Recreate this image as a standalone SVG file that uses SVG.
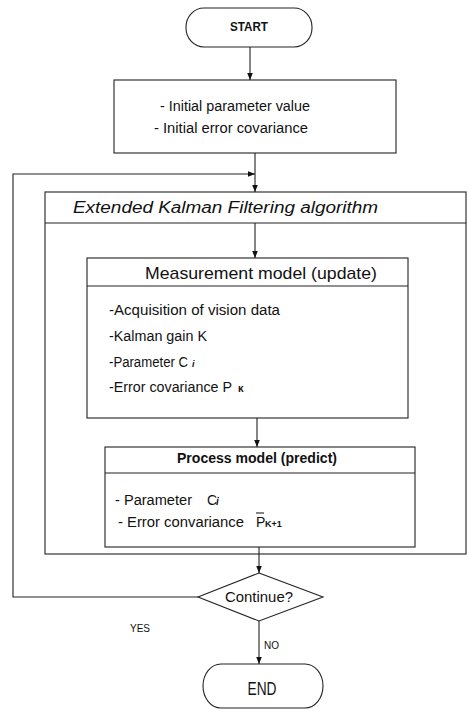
<svg xmlns="http://www.w3.org/2000/svg" width="469" height="710" viewBox="0 0 469 710">
<defs>
<marker id="ah" viewBox="0 0 10 10" refX="10" refY="5" markerWidth="7" markerHeight="7" orient="auto" markerUnits="userSpaceOnUse"><path d="M0,1 L10,5 L0,9 Z" fill="#111"/></marker>
<style>
.box{fill:none;stroke:#222;stroke-width:1.1}
.ln{fill:none;stroke:#222;stroke-width:1.1}
.t{font-family:"Liberation Sans",Arial,sans-serif;fill:#111}
</style>
</defs>
<rect width="469" height="710" fill="#fff"/>
<g id="start">
<rect class="box" x="186" y="8" width="126" height="39" rx="18" ry="19"/>
<text class="t" x="249" y="31" font-size="13" font-weight="bold" text-anchor="middle" textLength="38" lengthAdjust="spacingAndGlyphs">START</text>
</g>
<g id="init">
<rect class="box" x="114" y="80" width="282" height="73"/>
<text class="t" x="160" y="111" font-size="14" textLength="150" lengthAdjust="spacingAndGlyphs">- Initial parameter value</text>
<text class="t" x="154" y="133" font-size="14" textLength="154" lengthAdjust="spacingAndGlyphs">- Initial error covariance</text>
</g>
<g id="ekf">
<rect class="box" x="45" y="192" width="421" height="362"/>
<line class="ln" x1="45" y1="223" x2="466" y2="223"/>
<text class="t" x="73" y="213" font-size="16" font-style="italic" textLength="305" lengthAdjust="spacingAndGlyphs">Extended Kalman Filtering algorithm</text>
</g>
<g id="measurement">
<rect class="box" x="87" y="258" width="321" height="160"/>
<line class="ln" x1="87" y1="286" x2="408" y2="286"/>
<text class="t" x="145" y="279" font-size="17" textLength="232" lengthAdjust="spacingAndGlyphs">Measurement model (update)</text>
<text class="t" x="109" y="315" font-size="14" textLength="171" lengthAdjust="spacingAndGlyphs">-Acquisition of vision data</text>
<text class="t" x="109" y="341" font-size="14" textLength="98" lengthAdjust="spacingAndGlyphs">-Kalman gain K</text>
<text class="t" x="109" y="367" font-size="14"><tspan textLength="79" lengthAdjust="spacingAndGlyphs">-Parameter C</tspan><tspan x="192" font-size="9" font-style="italic" font-weight="bold">i</tspan></text>
<text class="t" x="109" y="392" font-size="14"><tspan textLength="123" lengthAdjust="spacingAndGlyphs">-Error covariance P</tspan><tspan x="238" font-size="10" font-weight="bold">κ</tspan></text>
</g>
<g id="process">
<rect class="box" x="105" y="447" width="310" height="100"/>
<line class="ln" x1="105" y1="473" x2="415" y2="473"/>
<text class="t" x="177" y="463" font-size="14" font-weight="bold" textLength="160" lengthAdjust="spacingAndGlyphs">Process model (predict)</text>
<text class="t" x="115" y="505" font-size="14"><tspan textLength="77" lengthAdjust="spacingAndGlyphs">- Parameter</tspan><tspan x="207">C</tspan><tspan x="216" font-size="10" font-style="italic" font-weight="bold">i</tspan></text>
<text class="t" x="118" y="527" font-size="14"><tspan textLength="126" lengthAdjust="spacingAndGlyphs">- Error convariance</tspan><tspan x="256">P</tspan><tspan x="265" font-size="9" font-weight="bold">K+1</tspan></text>
<line class="ln" x1="256" y1="513" x2="264" y2="513"/>
</g>
<g id="decision">
<polygon class="box" points="259,573 323,597 259,621 198,597"/>
<text class="t" x="259" y="602" font-size="15" text-anchor="middle" textLength="68" lengthAdjust="spacingAndGlyphs">Continue?</text>
</g>
<g id="end">
<rect class="box" x="203" y="664" width="120" height="44" rx="18" ry="22"/>
<text class="t" x="262" y="695" font-size="18" text-anchor="middle" textLength="29" lengthAdjust="spacingAndGlyphs">END</text>
</g>
<g id="connectors">
<line class="ln" x1="250" y1="47" x2="250" y2="80" marker-end="url(#ah)"/>
<line class="ln" x1="255" y1="153" x2="255" y2="192" marker-end="url(#ah)"/>
<line class="ln" x1="255" y1="223" x2="255" y2="258" marker-end="url(#ah)"/>
<line class="ln" x1="257" y1="418" x2="257" y2="447" marker-end="url(#ah)"/>
<line class="ln" x1="259" y1="547" x2="259" y2="573" marker-end="url(#ah)"/>
<line class="ln" x1="259" y1="621" x2="259" y2="664" marker-end="url(#ah)"/>
<polyline class="ln" points="198,597 13,597 13,174 255,174" marker-end="url(#ah)"/>
<text class="t" x="130" y="632" font-size="10">YES</text>
<text class="t" x="264" y="649" font-size="10">NO</text>
</g>
</svg>
